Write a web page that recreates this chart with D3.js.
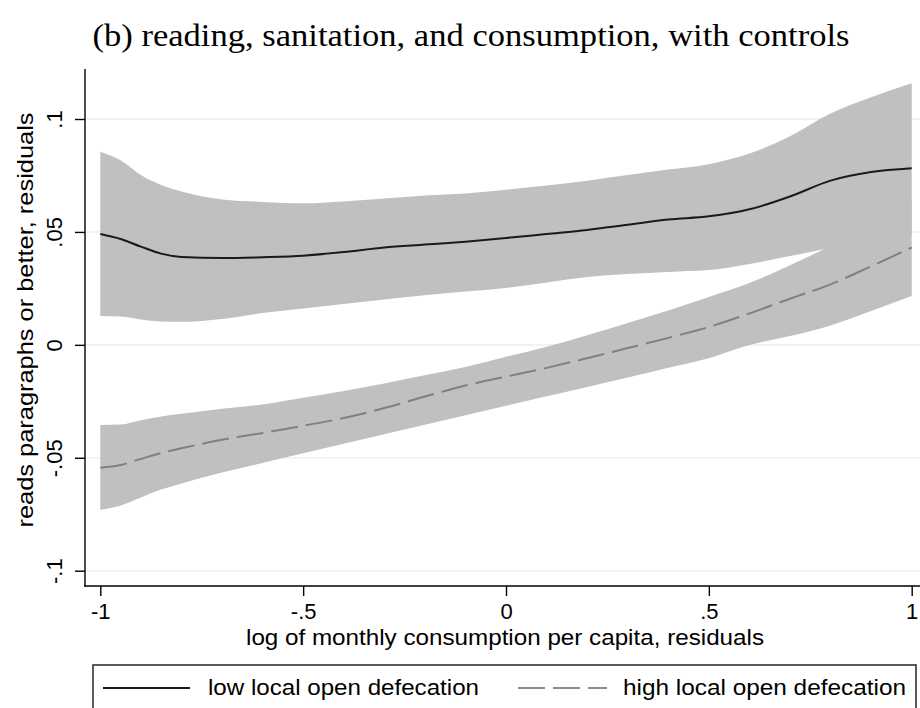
<!DOCTYPE html>
<html>
<head>
<meta charset="utf-8">
<script src="https://cdn.jsdelivr.net/npm/d3@7"></script>
<style>
  html, body { margin: 0; padding: 0; background: #fff; }
  svg { display: block; }
</style>
</head>
<body>
<svg id="chart" width="920" height="708"></svg>
<script>
// Local polynomial fits of reading on consumption (residualised), by local open defecation
const xGrid = [-1, -0.95, -0.9, -0.85, -0.8, -0.7, -0.6, -0.5, -0.4, -0.3, -0.2, -0.1,
               0, 0.1, 0.2, 0.3, 0.4, 0.5, 0.6, 0.7, 0.8, 0.9, 1];

// low local open defecation: fit and 95% band
const lowFit = [0.0491, 0.0469, 0.0435, 0.0404, 0.0389, 0.0384, 0.0388, 0.0395, 0.0411, 0.0431, 0.0444, 0.0457,
                0.0473, 0.0491, 0.0509, 0.0532, 0.0555, 0.0569, 0.0600, 0.0657, 0.0727, 0.0765, 0.0782];
const lowHi  = [0.0855, 0.0817, 0.0752, 0.0708, 0.0679, 0.0644, 0.0633, 0.0627, 0.0635, 0.0648, 0.0661, 0.0670,
                0.0687, 0.0706, 0.0727, 0.0752, 0.0776, 0.0800, 0.0847, 0.0924, 0.1024, 0.1096, 0.1158];
const lowLo  = [0.0128, 0.0126, 0.0112, 0.0103, 0.0102, 0.0115, 0.0141, 0.0161, 0.0181, 0.0201, 0.0220, 0.0236,
                0.0252, 0.0276, 0.0300, 0.0314, 0.0323, 0.0331, 0.0358, 0.0393, 0.0429, 0.0455, 0.0482];

// high local open defecation: fit and 95% band
const highFit = [-0.0544, -0.0532, -0.0505, -0.0479, -0.0458, -0.0420, -0.0390, -0.0358, -0.0324, -0.0280, -0.0229, -0.0180,
                 -0.0141, -0.0102, -0.0059, -0.0014, 0.0031, 0.0079, 0.0139, 0.0204, 0.0268, 0.0348, 0.0431];
const highHi  = [-0.0355, -0.0353, -0.0334, -0.0317, -0.0305, -0.0283, -0.0264, -0.0234, -0.0204, -0.0171, -0.0135, -0.0098,
                 -0.0053, -0.0008, 0.0043, 0.0097, 0.0152, 0.0212, 0.0274, 0.0352, 0.0440, 0.0545, 0.0649];
const highLo  = [-0.0731, -0.0711, -0.0676, -0.0641, -0.0614, -0.0565, -0.0523, -0.0480, -0.0438, -0.0396, -0.0354, -0.0312,
                 -0.0270, -0.0228, -0.0187, -0.0145, -0.0101, -0.0059, -0.0001, 0.0039, 0.0086, 0.0150, 0.0216];

const xTicks = [-1, -0.5, 0, 0.5, 1];
const xTickLabels = ["-1", "-.5", "0", ".5", "1"];
const yTicks = [-0.1, -0.05, 0, 0.05, 0.1];
const yTickLabels = ["-.1", "-.05", "0", ".05", ".1"];

const titleText = "(b) reading, sanitation, and consumption, with controls";
const xTitle = "log of monthly consumption per capita, residuals";
const yTitle = "reads paragraphs or better, residuals";
const seriesNames = ["low local open defecation", "high local open defecation"];

const svg = d3.select("#chart");
const sans = "'Liberation Sans', Arial, Helvetica, sans-serif";
const serif = "'Liberation Serif', 'DejaVu Serif', serif";

const axisX = 85, axisY = 586, plotTop = 69, plotRight = 920;
const x = d3.scaleLinear().domain([-1, 1]).range([100.3, 911.7]);
const y = d3.scaleLinear().domain([-0.1, 0.1]).range([570.7, 119]);

// title
svg.append("text")
  .attr("x", 471).attr("y", 46)
  .attr("text-anchor", "middle")
  .attr("font-family", serif).attr("font-size", 31)
  .attr("textLength", 757).attr("lengthAdjust", "spacingAndGlyphs")
  .attr("fill", "#000")
  .text(titleText);

// gridlines
svg.append("g").selectAll("line").data(yTicks).join("line")
  .attr("x1", axisX + 1).attr("x2", plotRight)
  .attr("y1", d => y(d)).attr("y2", d => y(d))
  .attr("stroke", "#eaf2f3").attr("stroke-width", 1.6);

// confidence bands
const rows = (fit, lo, hi) => xGrid.map((xv, i) => ({ x: xv, fit: fit[i], lo: lo[i], hi: hi[i] }));
const lowRows = rows(lowFit, lowLo, lowHi);
const highRows = rows(highFit, highLo, highHi);

const band = d3.area()
  .x(d => x(d.x)).y0(d => y(d.lo)).y1(d => y(d.hi))
  .curve(d3.curveMonotoneX);
const fitLine = d3.line()
  .x(d => x(d.x)).y(d => y(d.fit))
  .curve(d3.curveMonotoneX);

svg.append("path").datum(lowRows).attr("d", band).attr("fill", "#c0c0c0");
svg.append("path").datum(highRows).attr("d", band).attr("fill", "#c0c0c0");

// fitted lines
svg.append("path").datum(highRows).attr("d", fitLine)
  .attr("fill", "none").attr("stroke", "#808080").attr("stroke-width", 2)
  .attr("stroke-dasharray", "27,8");
svg.append("path").datum(lowRows).attr("d", fitLine)
  .attr("fill", "none").attr("stroke", "#1a1a1a").attr("stroke-width", 2);

// x axis
const gx = svg.append("g").attr("transform", `translate(0,${axisY})`)
  .call(d3.axisBottom(x).tickValues(xTicks).tickSize(10).tickPadding(7)
    .tickFormat((d, i) => xTickLabels[i]));
gx.select(".domain").remove();
gx.selectAll(".tick line").attr("stroke", "#000").attr("stroke-width", 1.4);
gx.selectAll(".tick text").attr("font-family", sans).attr("font-size", 22).attr("fill", "#000");

// y axis
const gy = svg.append("g").attr("transform", `translate(${axisX},0)`)
  .call(d3.axisLeft(y).tickValues(yTicks).tickSize(10)
    .tickFormat((d, i) => yTickLabels[i]));
gy.select(".domain").remove();
gy.selectAll(".tick line").attr("stroke", "#000").attr("stroke-width", 1.4);
gy.selectAll(".tick text")
  .attr("font-family", sans).attr("font-size", 22).attr("fill", "#000")
  .attr("text-anchor", "middle").attr("dy", null)
  .attr("x", 0).attr("y", -23)
  .attr("transform", "rotate(-90)");

// axis lines
svg.append("line").attr("x1", axisX).attr("x2", axisX).attr("y1", plotTop).attr("y2", axisY + 0.7)
  .attr("stroke", "#000").attr("stroke-width", 1.4);
svg.append("line").attr("x1", axisX - 0.7).attr("x2", plotRight).attr("y1", axisY).attr("y2", axisY)
  .attr("stroke", "#000").attr("stroke-width", 1.4);

// axis titles
svg.append("text")
  .attr("x", 505).attr("y", 645)
  .attr("text-anchor", "middle")
  .attr("font-family", sans).attr("font-size", 22)
  .attr("textLength", 518).attr("lengthAdjust", "spacingAndGlyphs")
  .text(xTitle);

svg.append("text")
  .attr("transform", "translate(33,320) rotate(-90)")
  .attr("text-anchor", "middle")
  .attr("font-family", sans).attr("font-size", 22)
  .attr("textLength", 415).attr("lengthAdjust", "spacingAndGlyphs")
  .text(yTitle);

// legend
const lg = svg.append("g");
lg.append("rect")
  .attr("x", 93).attr("y", 665).attr("width", 823).attr("height", 60)
  .attr("fill", "#fff").attr("stroke", "#333").attr("stroke-width", 1.6);

const legendItems = [
  { name: seriesNames[0], x1: 103, x2: 190, tx: 208, tw: 271, color: "#1a1a1a", dash: null },
  { name: seriesNames[1], x1: 518, x2: 607, tx: 623, tw: 283, color: "#8c8c8c", dash: "27,8" }
];
legendItems.forEach(it => {
  lg.append("line")
    .attr("x1", it.x1).attr("x2", it.x2).attr("y1", 688).attr("y2", 688)
    .attr("stroke", it.color).attr("stroke-width", 2)
    .attr("stroke-dasharray", it.dash);
  lg.append("text")
    .attr("x", it.tx).attr("y", 695)
    .attr("font-family", sans).attr("font-size", 22)
    .attr("textLength", it.tw).attr("lengthAdjust", "spacingAndGlyphs")
    .text(it.name);
});
</script>
</body>
</html>
